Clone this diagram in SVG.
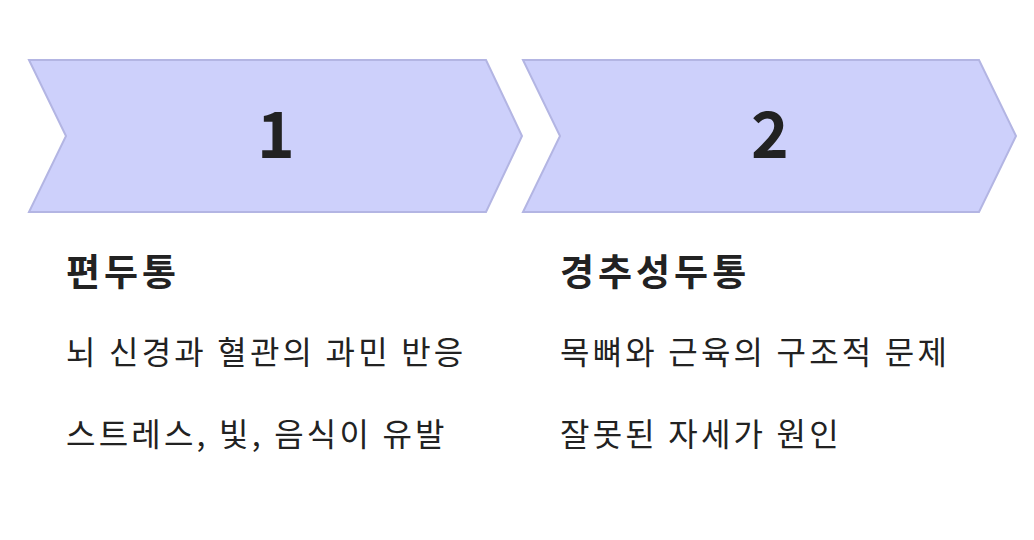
<svg xmlns="http://www.w3.org/2000/svg" width="1034" height="540" viewBox="0 0 1034 540">
<style>
.chev{fill:#cdd0fb;stroke:#b3b5e3;stroke-width:2}
.num{font-family:"Noto Sans CJK KR","Noto Sans",sans-serif;font-weight:bold;font-size:64px;fill:#222;text-anchor:middle}
.t{font-family:"Noto Sans CJK KR",sans-serif;font-weight:bold;font-size:37px;letter-spacing:4px;fill:#222}
.b{font-family:"Noto Sans CJK KR",sans-serif;font-size:32px;letter-spacing:3.2px;fill:#222}
</style>
<rect width="1034" height="540" fill="#fff"/>
<g id="step1">
<polygon class="chev" points="29,60 486,60 522,136 486,212 29,212 66,136"/>
<text class="num" x="276" y="158">1</text>
<text class="t" x="66" y="286">편두통</text>
<text class="b" x="66" y="364">뇌 신경과 혈관의 과민 반응</text>
<text class="b" x="66" y="446">스트레스, 빛, 음식이 유발</text>
</g>
<g id="step2">
<polygon class="chev" points="523,60 979,60 1016,136 979,212 523,212 560,136"/>
<text class="num" x="770" y="158">2</text>
<text class="t" x="560" y="286">경추성두통</text>
<text class="b" x="560" y="364">목뼈와 근육의 구조적 문제</text>
<text class="b" x="560" y="446">잘못된 자세가 원인</text>
</g>
<g id="connectors"/>
</svg>
